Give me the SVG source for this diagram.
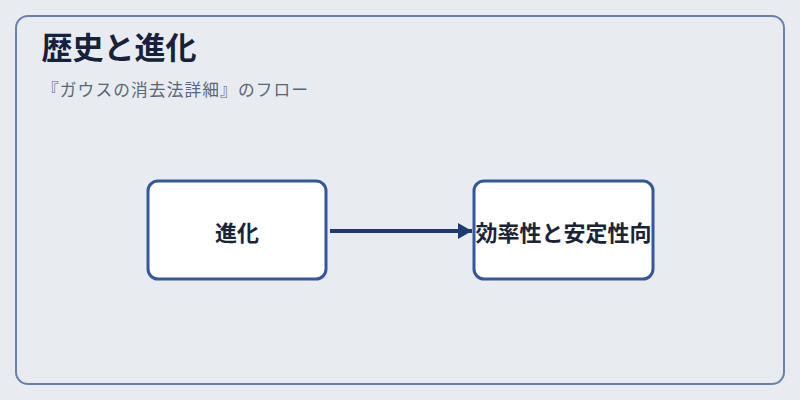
<svg xmlns="http://www.w3.org/2000/svg" width="800" height="400" viewBox="0 0 800 400">
<defs>
<style>
.frame{fill:none;stroke:#6a80b2;stroke-width:2}
.node rect{fill:#ffffff;stroke:#3557a0;stroke-width:3}
.node text{font-family:"Noto Sans CJK JP","Noto Sans",sans-serif;font-size:22px;font-weight:bold;fill:#1a2436;text-anchor:middle;dominant-baseline:central}
.title{font-family:"Noto Sans CJK JP","Noto Sans",sans-serif;font-size:31px;font-weight:bold;fill:#16213a}
.sub{font-family:"Noto Sans CJK JP","Noto Sans",sans-serif;font-size:16.7px;fill:#5a6578}
.conn{stroke:#1f3a72;stroke-width:4;fill:none}
</style>
<marker id="arr" markerUnits="userSpaceOnUse" markerWidth="16" markerHeight="18" refX="14" refY="8" orient="auto">
<path d="M0,0 L14,8 L0,16 Z" fill="#1f3a72"/>
</marker>
</defs>
<rect width="800" height="400" fill="#e8ecf1"/>
<rect class="frame" x="16" y="16" width="768" height="368" rx="12"/>
<text class="title" x="41.5" y="58.5" textLength="155" lengthAdjust="spacing">歴史と進化</text>
<text class="sub" x="42" y="96" textLength="266" lengthAdjust="spacing">『ガウスの消去法詳細』のフロー</text>
<g id="connectors">
<line class="conn" x1="330" y1="231" x2="472" y2="231" marker-end="url(#arr)"/>
</g>
<g id="node-evolution" class="node">
<rect x="148" y="181" width="178" height="98" rx="10"/>
<text x="237" y="231">進化</text>
</g>
<g id="node-efficiency" class="node">
<rect x="474" y="181" width="179" height="98" rx="10"/>
<text x="563.5" y="231">効率性と安定性向</text>
</g>
</svg>
